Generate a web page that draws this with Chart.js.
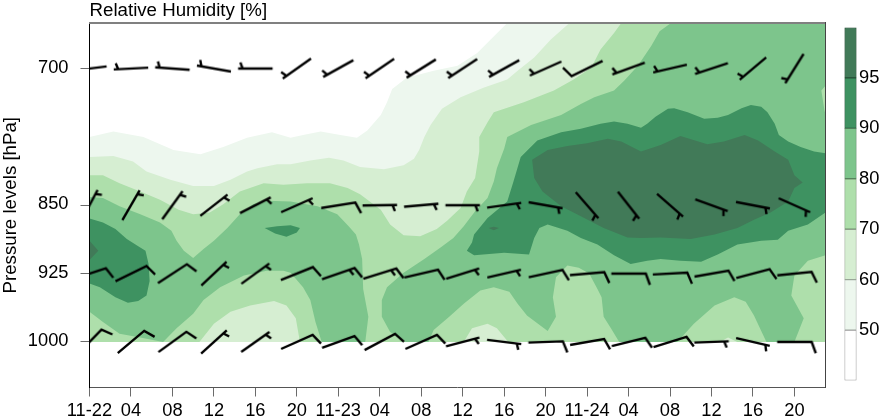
<!DOCTYPE html>
<html><head><meta charset="utf-8">
<style>html,body{margin:0;padding:0;background:#fff;overflow:hidden}
#wrap{position:relative;width:880px;height:418px}
canvas{position:absolute;top:0}
#main{left:0}#bar{left:838px}</style>
<script src="https://cdn.jsdelivr.net/npm/chart.js@4/dist/chart.umd.min.js"></script>
</head><body><div id="wrap"><canvas id="main" width="880" height="418"></canvas><canvas id="bar" width="42" height="418"></canvas></div>
<script>
// ---- axes (hours since 11-22 00:00, pressure in hPa)
const xTickLabels=["11-22","04","08","12","16","20","11-23","04","08","12","16","20","11-24","04","08","12","16","20"];
const pressureTicks=[700,850,925,1000];
const colorLevels=[50,60,70,80,90,95];
const colorBands=["#ffffff","#edf7ee","#d6eed2","#aedfab","#7dc58c","#3e9261","#417a58"];
const colorBandEdges=["#999999","#a3aca4","#8d9e8a","#6f906c","#4f7f5a","#224f35","#274c36"];

// ---- filled relative humidity contours: [hour, hPa] outlines
const rh50=[[40.3,650],[38.7,668],[37.4,683],[35.5,697],[33.2,702.5],[30.6,710],[29.2,722.5],[28.7,737],[28.1,751],[26.8,768],[25.8,776],[24.2,773],[22.3,769],[20.6,773],[19.4,776],[17.6,770],[15.2,776],[12.9,786],[10.7,794],[8.1,789.5],[5.2,775],[2.3,769],[0,775],[0,1000],[71,1000],[71,650]];
const rh60=[[46.3,650],[44.5,668],[42.9,688],[41.3,702.5],[40.3,712],[38,721],[35.8,731.5],[34,744],[32.9,762],[32.3,775],[31.8,789.5],[31.3,799],[30.3,806],[28.4,810.5],[26.1,808],[24.5,801],[23.1,798],[21.3,801],[19.4,805],[18.1,805],[16.2,809.5],[15.2,813],[13.6,822],[12,829],[10,829],[7.8,822],[5.5,813],[4.2,802],[2.3,796],[0,797],[0,1000],[71,1000],[71,650]];
const rh70=[[51.3,650],[50.6,661],[49.3,679],[48.4,699],[46.7,712],[44.8,724],[41.9,737],[39,748],[38.4,759],[37.6,775],[37.6,791],[37.2,820],[36.4,835],[35.8,853],[34.5,867],[33.5,876],[31.9,884],[30.3,883],[29,871],[28.1,855],[26.1,838],[24.9,831],[23.2,826],[21,826],[18.7,827.5],[16.8,826],[14.5,835],[12.9,849],[11.6,858],[10,860],[8.6,855],[6.8,844],[4.9,835],[2.9,826],[1.3,817],[0,817],[0,1000],[10.6,1000],[12,980],[13.6,967],[15.5,960],[17.8,955],[19,960],[19.9,974],[20.3,1000],[36.1,1000],[36.9,985],[38.4,980],[39.3,985],[40.4,1000],[60.8,1000],[61.6,995],[62.5,1000],[71,1000],[71,650]];
const rh80East=[[56.1,650],[55,659],[54.2,675],[52.9,697],[51.6,713],[50.6,724],[48.7,731.5],[47.4,739],[45.5,751],[42.6,762],[40.3,775],[40,788],[39.3,809.5],[39,824],[38.4,842],[37.2,856.5],[36.1,873],[35.1,886],[33.9,896],[32.3,909],[30.3,924],[28.7,940],[28.2,954],[28.2,972.5],[29,989],[30.5,1000],[32.7,1000],[33.2,987],[34.7,972.5],[36.1,958],[37.7,943.5],[39,940],[40.5,945],[41.3,958],[42.2,971],[44.2,988],[45,972.5],[44.7,951],[45,929],[46.1,916],[47.2,918.5],[48.2,925],[49,942],[49.4,951],[49.6,972.5],[50.3,985],[51.1,1000],[56.7,1000],[58.3,980],[60.3,960],[62.2,951],[63.3,956],[64.1,971],[65.3,1000],[68,1000],[68.9,974],[67.7,949],[68,927],[69.3,911],[71,905],[71,750],[70.9,746],[70.6,724],[71,719],[71,650]];
const rh80West=[[0,841],[1.3,842],[2.9,851],[4.9,860],[6.8,869],[7.9,878],[8.4,889],[9.1,900],[10,908],[11,898],[12,889],[13.3,875],[14.5,860],[15.8,849],[17.1,845],[19.4,846],[22,851],[23.9,860],[25,873],[25.7,882],[26,893],[26.3,909],[26.4,942],[26.9,972.5],[26.6,1000],[22.4,1000],[21.8,978],[21.3,954],[20.6,940],[19.4,924],[18.7,922],[17.1,922],[14.9,927],[12.6,940],[11,954],[10,969],[8.4,985],[7.1,1000],[4.9,995],[2.9,991],[1.3,978],[0,967]];
const rh90West=[[0,864.5],[1.3,869],[2.5,876],[3.6,887],[4.7,895],[5.4,900],[5.7,914.5],[5.8,933],[5.5,949],[4.7,955],[3.7,957],[2.5,951],[1,940],[0,936]];
const rh90Spot=[[16.9,875],[18.1,873],[19.4,872],[20.3,875],[20,880],[19,884.5],[17.9,881]];
const rh90East=[[40.3,846],[40.9,824],[41.6,797],[43.2,779],[45.5,770],[47.4,766],[49.3,760.5],[50.6,758],[51.9,760.5],[53.2,765],[53.8,760.5],[54.6,753],[55.8,744],[56.4,743.5],[57.7,748],[59.3,755],[60.6,754],[61.6,751],[62.9,743.5],[63.8,740],[64.8,742],[65.4,748],[66.1,760.5],[66.5,773],[67.4,780],[68.6,786],[69.9,791],[71,793],[71,858],[69.3,871],[67.4,878],[66.4,888],[64.8,889],[62.5,893],[60.6,904],[59,912],[57,911],[55.1,909],[53.8,911],[52.2,914.5],[50.6,905],[49,893],[47.4,886],[46.1,878],[44.2,871],[43.4,875],[42.9,886],[42.4,904],[40,902],[37.1,905],[36.4,900],[36.9,891],[37.1,882],[38.4,864]];
const rh95East=[[42.7,800],[44.2,789.5],[46.1,785],[48,782],[50,777],[51.3,780],[53.2,791],[55.1,784],[57,774],[59.6,783],[61.2,780],[63.2,773],[64.5,779],[66.1,791],[67.4,800],[68,817],[68.8,825],[68,831],[67.4,846],[65.7,858],[64.1,866],[62.5,875],[60.3,882],[58,887],[55.1,885.5],[53.2,886],[51.9,885.5],[49.6,875],[47.4,862],[45.5,851],[43.7,835],[42.9,820]];
const rh95Spot=[[38.5,875],[39,873.5],[39.5,875],[39,877.5]];
const rh95West=[[0,889],[0.85,900],[0,910]];

// ---- wind barbs: one every 4 hours, direction in degrees, speed in knots
const barbHours=[0,4,8,12,16,20,24,28,32,36,40,44,48,52,56,60,64,68];
const dir700=[263,267,274,280,270,235,241,236,238,237,241,246,244,250,257,252,230,212];
const spd700=[5,5,5,5,5,5,5,5,5,5,5,5,10,5,5,5,5,5];
const dir850=[28,30,36,52,63,66,81,89,85,90,82,100,139,142,131,110,101,114];
const spd850=[5,5,5,5,5,5,10,5,5,5,5,5,5,5,5,5,5,5];
const dir925=[72,64,57,47,54,68,71,73,77,73,77,78,85,90,87,80,75,84];
const spd925=[10,10,10,5,5,10,15,15,10,5,5,10,10,10,10,10,10,10];
const dir1000=[44,50,54,48,55,66,70,62,66,75,97,88,80,76,73,88,103,90];
const spd1000=[10,10,10,5,5,10,10,10,10,5,5,10,10,10,10,5,5,10];

const FONT="'Liberation Sans', Arial, sans-serif";
const barbCache={};
function barbGlyph(dir,spd){
  const key=dir+'/'+spd; if(barbCache[key])return barbCache[key];
  const S=64,c=S/2,L=34.5,FULL=12,HALF=6.5,INSET=4.5,A=70*Math.PI/180;
  const cv=document.createElement('canvas');cv.width=S;cv.height=S;
  const g=cv.getContext('2d');g.strokeStyle='#000';g.lineWidth=2.4;g.lineCap='butt';g.lineJoin='miter';
  const d=dir*Math.PI/180,ux=Math.sin(d),uy=-Math.cos(d);
  const fx=ux*Math.cos(A)-uy*Math.sin(A),fy=ux*Math.sin(A)+uy*Math.cos(A);
  const full=Math.floor(spd/10),half=(spd%10)>=5;
  g.beginPath();g.moveTo(c-ux*L/2,c-uy*L/2);g.lineTo(c+ux*L/2,c+uy*L/2);
  if(full>0){g.lineTo(c+ux*L/2+fx*FULL,c+uy*L/2+fy*FULL);}
  g.stroke();
  if(half){const at=L/2-(full>0?INSET+1:INSET);g.beginPath();g.moveTo(c+ux*at,c+uy*at);g.lineTo(c+ux*at+fx*HALF,c+uy*at+fy*HALF);g.stroke();}
  barbCache[key]=cv;return cv;
}
function barbDataset(level,dirs,spds){
  return {type:'scatter',order:0,showLine:false,data:barbHours.map(h=>({x:h,y:level})),
    pointRadius:2,pointHoverRadius:2,pointBorderWidth:0,borderWidth:0,
    pointStyle:ctx=>barbGlyph(dirs[ctx.dataIndex],spds[ctx.dataIndex])};
}
function contour(points,band,order){
  return {type:'scatter',order,showLine:true,data:points.map(p=>({x:p[0],y:p[1]})),
    fill:'shape',backgroundColor:colorBands[band],borderWidth:0,pointRadius:0,tension:0};
}
const tickGrey='#6a6a6a';
new Chart(document.getElementById('main'),{
  data:{datasets:[
    barbDataset(700,dir700,spd700),barbDataset(850,dir850,spd850),barbDataset(925,dir925,spd925),barbDataset(1000,dir1000,spd1000),
    contour(rh95East,6,1),contour(rh95Spot,6,1),contour(rh95West,6,1),
    contour(rh90East,5,2),contour(rh90Spot,5,2),contour(rh90West,5,2),
    contour(rh80East,4,3),contour(rh80West,4,3),
    contour(rh70,3,4),contour(rh60,2,5),contour(rh50,1,6)
  ]},
  options:{responsive:false,animation:false,events:[],
    layout:{padding:{left:0,right:54.5,top:0,bottom:0}},
    plugins:{legend:{display:false},tooltip:{enabled:false},
      title:{display:true,text:'Relative Humidity [%]',align:'start',fullSize:false,color:'#000',
        font:{family:FONT,size:18.7,weight:'normal',lineHeight:1},padding:{top:-1,bottom:2.3}}},
    scales:{
      x:{type:'linear',position:'bottom',min:0,max:71,
        afterFit:s=>{s.height=30.5},
        border:{color:'#555',width:1,z:1},
        grid:{drawOnChartArea:false,drawTicks:true,tickLength:9,tickColor:tickGrey,tickWidth:1},
        ticks:{stepSize:4,includeBounds:false,autoSkip:false,maxRotation:0,minRotation:0,padding:3,color:'#000',
          font:{family:FONT,size:18.3},callback:v=>xTickLabels[v/4]}},
      y:{type:'linear',position:'left',reverse:true,min:650,max:1050,
        afterFit:s=>{s.width=89.5},
        afterBuildTicks:s=>{s.ticks=pressureTicks.map(v=>({value:v}))},
        border:{color:'#000',width:1,z:1},
        grid:{drawOnChartArea:false,drawTicks:true,tickLength:9,tickColor:tickGrey,tickWidth:1},
        ticks:{padding:12,labelOffset:-1,autoSkip:false,color:'#000',font:{family:FONT,size:18.3},callback:v=>String(v)},
        title:{display:true,text:'Pressure levels [hPa]',color:'#000',font:{family:FONT,size:18.7,weight:'normal'},padding:{top:0,bottom:0}}},
      xTop:{type:'linear',position:'top',min:0,max:71,afterFit:s=>{s.height=0},
        border:{color:'#808080',width:2,z:1},grid:{drawOnChartArea:false,drawTicks:false},ticks:{display:false}},
      yRight:{type:'linear',position:'right',min:0,max:1,afterFit:s=>{s.width=0},
        border:{color:'#444',width:1,z:1},grid:{drawOnChartArea:false,drawTicks:false},ticks:{display:false}}
    }
  }
});
// ---- colour key
new Chart(document.getElementById('bar'),{
  type:'bar',
  data:{labels:['RH'],datasets:colorBands.map((c,i)=>({data:[[i,i+1]],backgroundColor:c,borderColor:colorBandEdges[i],borderWidth:1,borderSkipped:false,categoryPercentage:1,barPercentage:1}))},
  options:{responsive:false,animation:false,events:[],
    layout:{padding:{left:6.5,right:0,top:27.5,bottom:37.5}},
    plugins:{legend:{display:false},tooltip:{enabled:false}},
    scales:{
      x:{display:false,stacked:true},
      y:{position:'right',min:0,max:7,afterFit:s=>{s.width=23.5},
        border:{display:false},grid:{display:false,drawTicks:false},
        ticks:{stepSize:1,padding:2.5,color:'#000',autoSkip:false,font:{family:FONT,size:18.3},
          callback:v=>(v>=1&&v<=6)?String(colorLevels[v-1]):''}}
    }
  }
});
</script></body></html>
